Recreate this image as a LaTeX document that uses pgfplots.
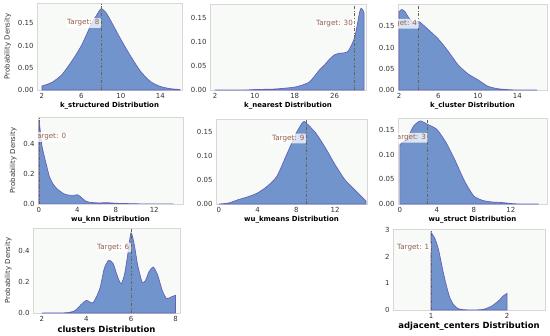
\documentclass[border=0pt]{standalone}
\usepackage{fontspec}
\setmainfont{DejaVu Sans}
\usepackage{pgfplots}
\pgfplotsset{compat=1.18}
\definecolor{bgc}{RGB}{247,250,247}
\definecolor{fillc}{RGB}{114,148,204}
\definecolor{linec}{RGB}{100,96,185}
\definecolor{framec}{RGB}{215,215,215}
\definecolor{tickc}{RGB}{50,50,50}
\definecolor{targc}{RGB}{105,100,75}
\definecolor{targt}{RGB}{150,95,75}
\pgfplotsset{
  panel/.style={
    scale only axis, anchor=north west,
    axis background/.style={fill=bgc},
    axis line style={draw=framec, line width=0.6pt},
    major tick length=0pt,
    tick style={draw=none},
    ymin=0,
    /pgf/number format/assume math mode=true,
    ticklabel style={font=\fontsize{7}{8}\selectfont, text=tickc},
    xlabel style={font=\bfseries\fontsize{7}{8}\selectfont, yshift=3pt},
    ylabel style={font=\fontsize{7}{8}\selectfont, text=tickc},
    scaled y ticks=false,
    yticklabel style={/pgf/number format/.cd, fixed, fixed zerofill, precision=2},
  },
  kde/.style={fill=fillc, draw=linec, line width=0.7pt, smooth, tension=0.4},
  targ/.style={draw=targc, dash dot, line width=0.8pt, forget plot},
}
\newcommand{\tlabel}[2]{\node[anchor=east, fill=white, fill opacity=0.75, text opacity=1, text=targt, font=\fontsize{7.2}{8}\selectfont, inner sep=1.5pt, rounded corners=1pt] at ({axis cs:#1,0}|-{rel axis cs:0,0.77}) {Target: #2};}
\begin{document}
\begin{tikzpicture}
\useasboundingbox (0,0) rectangle (550bp,-336bp);
% Panel 1
\begin{axis}[panel, at={(37bp,-3bp)}, width=145bp, height=87bp,
  xmin=1.5, xmax=16.2, ymax=0.196, xtick={2,6,10,14}, ytick={0,0.05,0.1,0.15},
  xlabel={k\_structured Distribution}, ylabel={Probability Density}]
\addplot[kde] coordinates {(2,0.009)(3,0.017)(4,0.034)(5,0.064)(6,0.100)(7,0.148)(7.5,0.167)(8,0.183)(8.5,0.174)(9,0.155)(10,0.114)(11,0.076)(12,0.042)(13,0.019)(14,0.008)(15,0.003)(16,0.001)} \closedcycle;
\addplot[targ] coordinates {(8,0)(8,0.196)};
\tlabel{8}{8}
\end{axis}
% Panel 2
\begin{axis}[panel, at={(210bp,-4bp)}, width=156bp, height=86bp,
  xmin=1, xmax=32.3, ymax=0.178, xtick={2,10,18,26}, ytick={0,0.05,0.1,0.15},
  xlabel={k\_nearest Distribution}]
\addplot[kde] coordinates {(2,0)(8,0)(10,0.001)(14,0.002)(18,0.006)(20,0.012)(21,0.017)(22,0.029)(23,0.042)(24,0.052)(25,0.064)(26,0.073)(27,0.076)(28,0.077)(28.7,0.080)(29.3,0.091)(30,0.108)(30.5,0.132)(31,0.160)(31.3,0.169)(31.7,0.165)(31.9,0.158)} \closedcycle;
\addplot[targ] coordinates {(30,0)(30,0.178)};
\tlabel{30}{30}
\end{axis}
% Panel 3
\begin{axis}[panel, at={(398bp,-4bp)}, width=149bp, height=86bp,
  xmin=1.9, xmax=17, ymax=0.203, xtick={2,6,10,14}, ytick={0,0.05,0.1,0.15},
  xlabel={k\_cluster Distribution}]
\addplot[kde] coordinates {(2,0.185)(2.3,0.190)(2.6,0.185)(3,0.170)(3.5,0.160)(4,0.162)(5,0.142)(6,0.120)(7,0.091)(8,0.059)(9,0.038)(10,0.024)(11,0.009)(12,0.003)(13,0.001)(14,0)(16,0)} \closedcycle;
\addplot[targ] coordinates {(4,0)(4,0.203)};
\tlabel{4}{4}
\end{axis}
% Panel 4
\begin{axis}[panel, at={(38bp,-117bp)}, width=145bp, height=87bp,
  xmin=-0.1, xmax=15, ymax=0.58, xtick={0,4,8,12}, ytick={0,0.2,0.4},
  yticklabel style={/pgf/number format/.cd, fixed, fixed zerofill, precision=1},
  xlabel={wu\_knn Distribution}, ylabel={Probability Density}]
\addplot[kde] coordinates {(0,0.56)(0.15,0.48)(0.3,0.39)(0.7,0.28)(1.1,0.18)(1.5,0.13)(1.9,0.10)(2.6,0.068)(3.2,0.058)(3.7,0.058)(4,0.062)(4.3,0.05)(4.9,0.018)(5.5,0.01)(6.3,0.007)(7,0.009)(8,0.005)(9,0.003)(10,0.002)(11,0)(14,0)} \closedcycle;
\addplot[targ] coordinates {(0,0)(0,0.58)};
\tlabel{3}{0}
\end{axis}
% Panel 5
\begin{axis}[panel, at={(216bp,-119bp)}, width=151bp, height=85bp,
  xmin=-0.3, xmax=15.3, ymax=0.177, xtick={0,4,8,12}, ytick={0,0.05,0.1,0.15},
  xlabel={wu\_kmeans Distribution}]
\addplot[kde] coordinates {(0,0)(1,0.002)(2,0.009)(3,0.015)(4,0.023)(5,0.037)(6,0.058)(7,0.103)(8,0.148)(8.7,0.171)(9,0.169)(10,0.148)(11,0.117)(12,0.082)(13,0.051)(14,0.030)(15,0.010)(15.2,0.006)} \closedcycle;
\addplot[targ] coordinates {(9,0)(9,0.177)};
\tlabel{9}{9}
\end{axis}
% Panel 6
\begin{axis}[panel, at={(398bp,-118bp)}, width=149bp, height=86bp,
  xmin=-0.2, xmax=15.9, ymax=0.174, xtick={0,4,8,12}, ytick={0,0.05,0.1,0.15},
  xlabel={wu\_struct Distribution}]
\addplot[kde] coordinates {(0,0.12)(0.5,0.128)(1,0.14)(1.5,0.158)(2.2,0.168)(3,0.161)(4,0.151)(5,0.124)(6,0.087)(7,0.046)(8,0.016)(9,0.007)(10,0.004)(11,0.003)(12,0.001)(13,0)(15,0)} \closedcycle;
\addplot[targ] coordinates {(3,0)(3,0.174)};
\tlabel{3}{3}
\end{axis}
% Panel 7
\begin{axis}[panel, at={(33bp,-228bp)}, width=147bp, height=85bp,
  xmin=1.6, xmax=8.2, ymax=0.551, xtick={2,4,6,8}, ytick={0,0.2,0.4},
  yticklabel style={/pgf/number format/.cd, fixed, fixed zerofill, precision=1},
  xlabel style={font=\bfseries\fontsize{8.5}{9}\selectfont},
  xlabel={clusters Distribution}, ylabel={Probability Density}]
\addplot[kde] coordinates {(2,0)(3,0.001)(3.3,0.006)(3.5,0.017)(3.8,0.06)(4,0.082)(4.3,0.067)(4.6,0.158)(4.8,0.288)(5,0.342)(5.2,0.32)(5.4,0.234)(5.55,0.19)(5.7,0.244)(5.85,0.374)(6,0.52)(6.15,0.44)(6.3,0.31)(6.5,0.2)(6.65,0.21)(6.8,0.265)(7,0.298)(7.2,0.245)(7.4,0.147)(7.6,0.093)(7.8,0.104)(8,0.115)} \closedcycle;
\addplot[targ] coordinates {(6,0)(6,0.551)};
\tlabel{6}{6}
\end{axis}
% Panel 9
\begin{axis}[panel, at={(393bp,-229bp)}, width=152bp, height=81bp,
  xmin=0.5, xmax=2.5, ymax=3.04, xtick={1,2}, ytick={0,1,2,3},
  yticklabel style={/pgf/number format/.cd, fixed, precision=0},
  xlabel style={font=\bfseries\fontsize{8.5}{9}\selectfont},
  xlabel={adjacent\_centers Distribution}]
\addplot[kde] coordinates {(1,2.91)(1.05,2.69)(1.1,2.25)(1.15,1.56)(1.2,0.94)(1.25,0.44)(1.3,0.19)(1.35,0.06)(1.4,0.02)(1.5,0.003)(1.6,0.004)(1.65,0.012)(1.7,0.03)(1.8,0.15)(1.9,0.37)(1.95,0.53)(2,0.62)} \closedcycle;
\addplot[targ] coordinates {(1,0)(1,3.04)};
\tlabel{1}{1}
\end{axis}
\end{tikzpicture}
\end{document}
